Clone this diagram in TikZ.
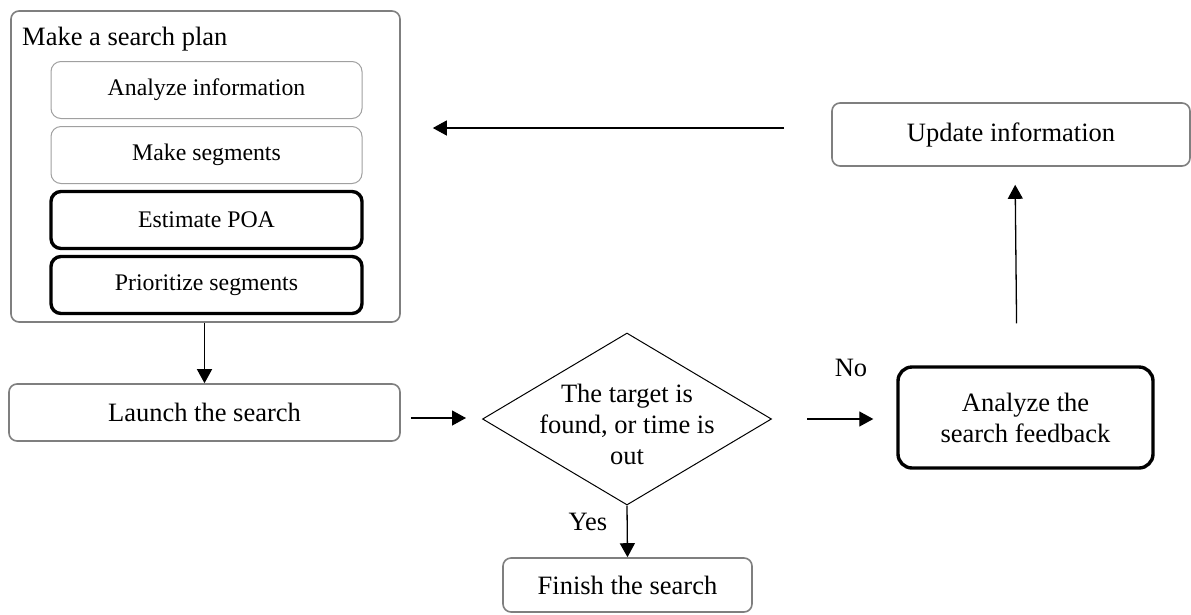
\documentclass[tikz,border=0pt]{standalone}
\usepackage{fontspec}
\setmainfont{Liberation Serif}
\usetikzlibrary{arrows.meta,shapes.geometric}
\definecolor{boxgray}{HTML}{7F7F7F}
\definecolor{lightgray}{HTML}{A0A0A0}
\begin{document}
\begin{tikzpicture}[x=1pt,y=-1pt,
  big/.style={font=\fontsize{26.5}{31}\selectfont},
  small/.style={font=\fontsize{23.8}{28}\selectfont},
  graybox/.style={draw=boxgray, line width=1.6pt, rounded corners=8pt, inner sep=0pt, big, align=center},
  thinbox/.style={draw=lightgray, line width=1pt, rounded corners=10pt, inner sep=0pt, small, minimum width=311pt, minimum height=57pt},
  boldsub/.style={draw=black, line width=3.4pt, rounded corners=10pt, inner sep=0pt, small, minimum width=311pt, minimum height=57pt},
  boldbox/.style={draw=black, line width=3.4pt, rounded corners=14pt, inner sep=0pt, big, align=center},
  arr/.style={draw=black, line width=1.3pt, -{Triangle[length=14pt,width=15pt]}},
  lbl/.style={big, inner sep=0pt}
]
\useasboundingbox[fill=white] (0,0) rectangle (1191,614);

% Make a search plan group
\node[graybox, minimum width=389pt, minimum height=311pt] (outer) at (205.5,166.5) {};
\node[big, inner sep=0pt, anchor=base west] (title) at (22,45) {Make a search plan};
\node[thinbox] (ana) at (206.5,90) {Analyze information};
\node[thinbox] (seg) at (206.5,155) {Make segments};
\node[boldsub] (poa) at (206.5,220) {Estimate POA};
\node[boldsub] (pri) at (206.5,285) {Prioritize segments};

% main flow
\node[graybox, minimum width=391pt, minimum height=57pt] (launch) at (204.5,412.5) {Launch the search};
\node[draw=black, line width=1pt, shape=diamond, inner sep=0pt, minimum width=289pt, minimum height=172pt] (dec) at (627,419) {};
\node[big, align=center, inner sep=0pt] (dectext) at (627,424) {The target is\\found, or time is\\out};
\node[graybox, minimum width=249pt, minimum height=54pt] (finish) at (627.5,585) {Finish the search};
\node[boldbox, minimum width=255pt, minimum height=101pt] (fb) at (1025.5,417.5) {Analyze the\\search feedback};
\node[graybox, minimum width=358pt, minimum height=63pt] (upd) at (1011,134.5) {Update information};

% labels
\node[lbl] (yes) at (588,522) {Yes};
\node[lbl] (no) at (851,368) {No};

% connectors
\draw[arr] (outer.south -| launch.north) -- (launch.north);
\draw[arr, shorten <=10pt, shorten >=16pt] ([yshift=-5.5pt]launch.east) -- ([yshift=-5.5pt]launch.east -| dec.west);
\draw[arr] (dec.south) -- (finish.north);
\draw[arr, shorten <=35pt, shorten >=23pt] (dec.east) -- (dec.east -| fb.west);
\draw[arr, shorten <=42pt, shorten >=18pt] ([xshift=-8.5pt]fb.north) -- ([xshift=4pt]upd.south);
\draw[arr, shorten <=47pt, shorten >=32pt] ([yshift=6.5pt]upd.west) -- ([yshift=6.5pt]upd.west -| outer.east);
\end{tikzpicture}
\end{document}
